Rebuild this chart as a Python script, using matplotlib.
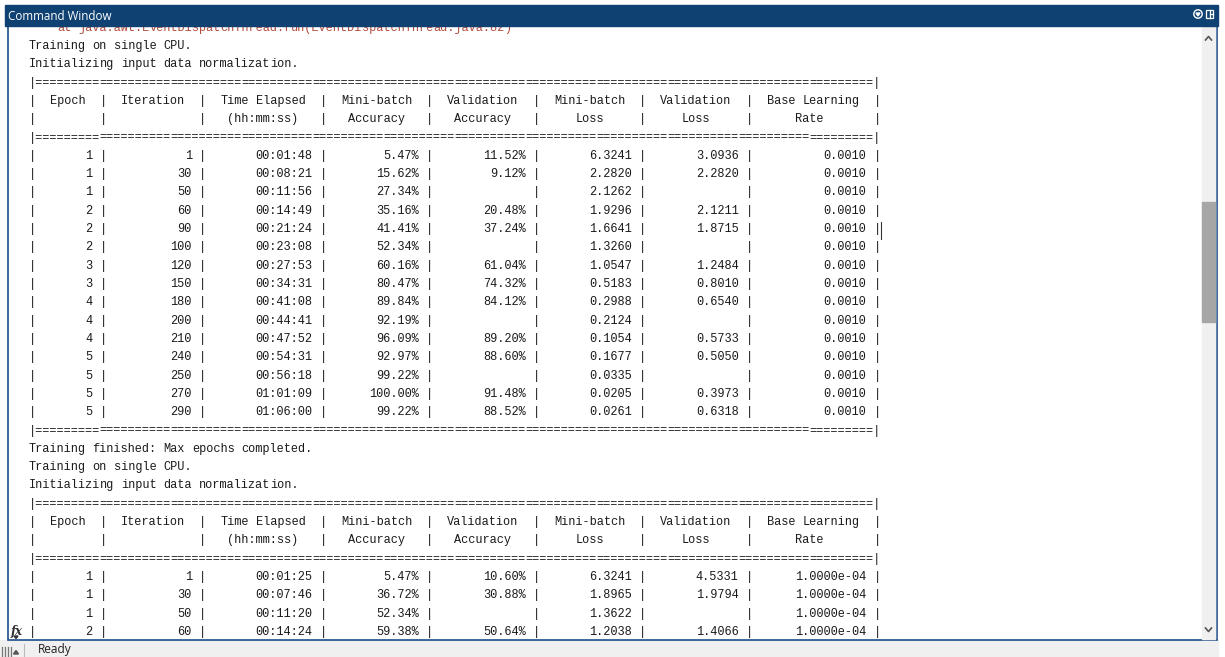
import re
import matplotlib.pyplot as plt
from matplotlib.patches import Rectangle, Circle, Polygon

# ---- training log values ----
epoch_1 = [1, 1, 1, 2, 2, 2, 3, 3, 4, 4, 4, 5, 5, 5, 5]
iteration_1 = [1, 30, 50, 60, 90, 100, 120, 150, 180, 200, 210, 240, 250, 270, 290]
elapsed_1 = ["00:01:48", "00:08:21", "00:11:56", "00:14:49", "00:21:24", "00:23:08",
             "00:27:53", "00:34:31", "00:41:08", "00:44:41", "00:47:52", "00:54:31",
             "00:56:18", "01:01:09", "01:06:00"]
mb_acc_1 = [5.47, 15.62, 27.34, 35.16, 41.41, 52.34, 60.16, 80.47, 89.84, 92.19,
            96.09, 92.97, 99.22, 100.00, 99.22]
val_acc_1 = [11.52, 9.12, None, 20.48, 37.24, None, 61.04, 74.32, 84.12, None,
             89.20, 88.60, None, 91.48, 88.52]
mb_loss_1 = [6.3241, 2.2820, 2.1262, 1.9296, 1.6641, 1.3260, 1.0547, 0.5183, 0.2988,
             0.2124, 0.1054, 0.1677, 0.0335, 0.0205, 0.0261]
val_loss_1 = [3.0936, 2.2820, None, 2.1211, 1.8715, None, 1.2484, 0.8010, 0.6540,
              None, 0.5733, 0.5050, None, 0.3973, 0.6318]
lr_1 = 0.0010

epoch_2 = [1, 1, 1, 2]
iteration_2 = [1, 30, 50, 60]
elapsed_2 = ["00:01:25", "00:07:46", "00:11:20", "00:14:24"]
mb_acc_2 = [5.47, 36.72, 52.34, 59.38]
val_acc_2 = [10.60, 30.88, None, 50.64]
mb_loss_2 = [6.3241, 1.8965, 1.3622, 1.2038]
val_loss_2 = [4.5331, 1.9794, None, 1.4066]
lr_2 = 1.0e-4

java_line = "    at java.awt.EventDispatchThread.run(EventDispatchThread.java:82)"
header_1 = "|  Epoch  |  Iteration  |  Time Elapsed  |  Mini-batch  |  Validation  |  Mini-batch  |  Validation  |  Base Learning  |"
header_2 = "|         |             |   (hh:mm:ss)   |   Accuracy   |   Accuracy   |     Loss     |     Loss     |      Rate       |"
widths = [9, 13, 16, 14, 14, 14, 14, 17]
sep = "|" + "=" * (len(header_1) - 2) + "|"


def cell(val, w):
    return ("" if val is None else str(val)).rjust(w - 1) + " "


def fmt_rows(ep, it, el, mba, va, mbl, vl, lr, lr_fmt):
    rows = []
    for i in range(len(ep)):
        vals = [ep[i], it[i], el[i], f"{mba[i]:.2f}%",
                None if va[i] is None else f"{va[i]:.2f}%",
                f"{mbl[i]:.4f}",
                None if vl[i] is None else f"{vl[i]:.4f}",
                format(lr, lr_fmt)]
        rows.append("|" + "|".join(cell(v, w) for v, w in zip(vals, widths)) + "|")
    return rows


lines = [java_line, "Training on single CPU.", "Initializing input data normalization.",
         sep, header_1, header_2, sep]
lines += fmt_rows(epoch_1, iteration_1, elapsed_1, mb_acc_1, val_acc_1, mb_loss_1,
                  val_loss_1, lr_1, ".4f")
lines += [sep, "Training finished: Max epochs completed.", "Training on single CPU.",
          "Initializing input data normalization.", sep, header_1, header_2, sep]
lines += fmt_rows(epoch_2, iteration_2, elapsed_2, mb_acc_2, val_acc_2, mb_loss_2,
                  val_loss_2, lr_2, ".4e")

W, H = 1225, 657
fig = plt.figure(figsize=(W / 100, H / 100), dpi=100)
ax = fig.add_axes([0, 0, 1, 1])
ax.set_xlim(0, W)
ax.set_ylim(H, 0)
ax.axis("off")

border = "#1b4f8a"
# content area + chrome
ax.add_patch(Rectangle((0, 0), W, H, color="white", zorder=0))
ax.add_patch(Rectangle((0, 640), 1218, 17, color="#f0f0f0", zorder=1))
ax.add_patch(Rectangle((7.5, 26), 1209, 614, facecolor="white", edgecolor=border,
                       linewidth=1.2, zorder=1))
ax.add_patch(Rectangle((5, 5), 1213, 21, color="#0f4273", zorder=10))
ax.text(8, 16, "Command Window", color="white", fontsize=8.4, family=["Open Sans"],
        va="center", ha="left", zorder=11)

# title icons
ax.add_patch(Circle((1198, 14), 4.2, facecolor="none", edgecolor="white", lw=1.0, zorder=11))
ax.add_patch(Polygon([(1196, 13), (1200, 13), (1198, 16)], color="white", zorder=11))
ax.add_patch(Rectangle((1206, 10), 7, 8, facecolor="none", edgecolor="white", lw=0.9, zorder=11))
ax.plot([1209.5, 1209.5], [10, 18], color="white", lw=0.9, zorder=11)
ax.plot([1209.5, 1213], [14, 14], color="white", lw=0.9, zorder=11)

# scrollbar
ax.add_patch(Rectangle((1202, 27), 13, 612, color="#f0f0f0", zorder=2))
ax.add_patch(Rectangle((1202, 202), 13, 120, color="#a6a6a6", zorder=3))
ax.plot([1205.5, 1208.5, 1211.5], [40, 36.5, 40], color="#555555", lw=1.2, zorder=3)
ax.plot([1205.5, 1208.5, 1211.5], [628, 631.5, 628], color="#555555", lw=1.2, zorder=3)

# fx gutter icon
ax.text(11, 631, "fx", fontsize=8.5, style="italic", weight="bold", family=["DejaVu Serif"],
        color="#333333", va="center", ha="left", zorder=4)
ax.add_patch(Polygon([(14, 636), (18, 636), (16, 638.5)], color="#333333", zorder=4))

# status bar
for xx in [1.5, 4.5, 7.5, 10.5]:
    ax.plot([xx, xx], [647, 657], color="#777777", lw=0.9, zorder=4)
ax.add_patch(Polygon([(13.5, 654), (18.5, 654), (16, 650.5)], color="#555555", zorder=4))
ax.plot([24, 24], [644, 657], color="#bbbbbb", lw=0.8, zorder=4)
ax.text(38, 649.5, "Ready", fontsize=8.6, family=["Open Sans"], color="#222222",
        va="center", ha="left", zorder=4)

# console text, placed on a fixed character grid
x0 = 28.5
cw = 7.1
y0 = 27.7
dy = 18.31
for i, s in enumerate(lines):
    col = "#b24a3c" if i == 0 else "#1a1a1a"
    for m in re.finditer(r"\S{1,10}", s):
        ax.text(x0 + m.start() * cw, y0 + i * dy, m.group(), family=["Liberation Mono"],
                fontsize=8.52, color=col, va="center", ha="left", zorder=5)

# text cursor after the "90" row
ax.plot([881, 881], [222, 239], color="#333333", lw=0.8, zorder=5)

fig.savefig("out.png", dpi=100)
